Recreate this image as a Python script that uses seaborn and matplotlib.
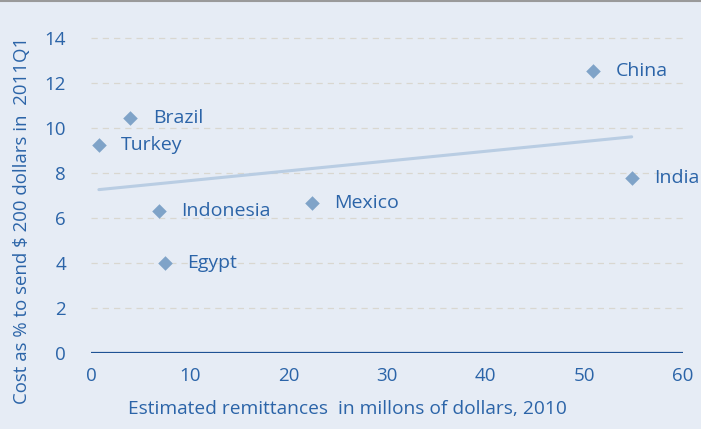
import matplotlib
matplotlib.use("Agg")
import matplotlib.pyplot as plt
import seaborn as sns
import pandas as pd
from matplotlib.lines import Line2D

# data
countries = ["Brazil", "Turkey", "China", "India", "Indonesia", "Mexico", "Egypt"]
remittances = [4.0, 0.8, 50.9, 54.8, 6.9, 22.4, 7.5]
cost_pct = [10.45, 9.25, 12.5, 7.75, 6.3, 6.65, 4.0]
y_ticks = [0, 2, 4, 6, 8, 10, 12, 14]
x_ticks = [0, 10, 20, 30, 40, 50, 60]

df = pd.DataFrame({"country": countries, "x": remittances, "y": cost_pct})

BG = "#e6ecf5"
TEXT = "#2b64a8"
MARK = "#7fa3c8"
TREND = "#b9cde3"

sns.set_style("white")
plt.rcParams["font.family"] = ["Open Sans", "DejaVu Sans"]

fig = plt.figure(figsize=(7.01, 4.29), dpi=100, facecolor=BG)
ax = fig.add_axes([91 / 701, 76 / 429, 592 / 701, 338 / 429])
ax.set_facecolor(BG)

sns.regplot(data=df, x="x", y="y", ci=None, scatter=False, truncate=True,
            line_kws={"color": TREND, "linewidth": 2.2}, ax=ax)
sns.scatterplot(data=df, x="x", y="y", marker="D", s=55, color=MARK,
                edgecolor=MARK, linewidth=0, ax=ax, zorder=3)

for _, r in df.iterrows():
    ax.annotate(r["country"], (r["x"], r["y"]), xytext=(16, 0),
                textcoords="offset points", va="center", ha="left",
                fontsize=14, color=TEXT)

ax.set_xlim(0, 60)
ax.set_ylim(0, 15)
ax.set_xticks(x_ticks)
ax.set_yticks(y_ticks)
ax.tick_params(axis="both", labelsize=13.5, colors=TEXT, length=0)
ax.tick_params(axis="x", pad=10)
ax.tick_params(axis="y", pad=18)
for t in y_ticks[1:]:
    ax.axhline(t, color="#d9d7d0", linestyle=(0, (5, 4)), linewidth=0.9, zorder=0)
ax.axhline(0, color="#1f5294", linewidth=1.6, zorder=2)
for s in ax.spines.values():
    s.set_visible(False)

ax.set_xlabel("Estimated remittances  in millons of dollars, 2010",
              fontsize=13.8, color=TEXT)
ax.set_ylabel("Cost as % to send $ 200 dollars in  2011Q1",
              fontsize=13.4, color=TEXT)
ax.xaxis.set_label_coords(0.434, -0.14)
ax.yaxis.set_label_coords(-0.102, 0.393)

fig.add_artist(Line2D([0, 1], [0.997, 0.997], transform=fig.transFigure,
                      color="#9a9a9a", linewidth=1.5))

fig.savefig("out.png", dpi=100, facecolor=BG)
